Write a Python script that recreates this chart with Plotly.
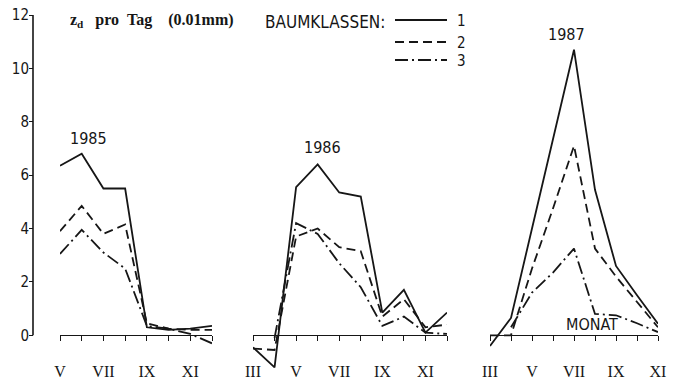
import plotly.graph_objects as go

# ---------------- data ----------------
months_1985 = [5, 6, 7, 8, 9, 10, 11, 12]
k1_1985 = [6.35, 6.8, 5.5, 5.5, 0.3, 0.2, 0.25, 0.35]
k2_1985 = [3.9, 4.85, 3.8, 4.15, 0.45, 0.25, 0.2, 0.2]
k3_1985 = [3.05, 3.95, 3.1, 2.5, 0.35, 0.25, 0.05, -0.3]

months_1986 = [3, 4, 5, 6, 7, 8, 9, 10, 11, 12]
k1_1986 = [-0.45, -1.2, 5.55, 6.4, 5.35, 5.2, 0.85, 1.7, 0.1, 0.85]
k2_1986 = [-0.5, -0.55, 3.7, 4.0, 3.3, 3.15, 0.7, 1.35, 0.3, 0.4]
k3_1986 = [None, -0.1, 4.2, 3.8, 2.7, 1.8, 0.35, 0.7, 0.1, 0.05]

months_1987 = [3, 4, 5, 6, 7, 8, 9, 10, 11]
k1_1987 = [-0.4, 0.65, 4.0, 7.3, 10.7, 5.45, 2.6, 1.5, 0.43]
k2_1987 = [0.0, 0.0, 2.5, 4.75, 7.1, 3.25, 2.2, 1.25, 0.3]
k3_1987 = [None, 0.3, 1.6, 2.35, 3.25, 0.8, 0.75, 0.45, 0.12]

roman = {3: "III", 5: "V", 7: "VII", 9: "IX", 11: "XI"}
y_ticks = [0, 2, 4, 6, 8, 10, 12]
class_names = ["1", "2", "3"]

# ---------------- layout helpers ----------------
W, H = 675, 382
ML, MR, MT, MB = 33, 5, 7, 4
PW, PH = W - ML - MR, H - MT - MB
Y0, Y1 = -1.6, 12.3


def px(x):
    return (x - ML) / PW


def py(y):
    return 1 - (y - MT) / PH


INK = "#161616"
DASHES = ["solid", "9px,5px", "13px,4px,2px,4px"]
SERIF = "Liberation Serif, DejaVu Serif, serif"
NARROW = "Liberation Sans Narrow, Arial Narrow, DejaVu Sans Condensed, Liberation Sans, sans-serif"
NB = "\u00a0"

fig = go.Figure()

panels = [
    ("x", months_1985, [k1_1985, k2_1985, k3_1985]),
    ("x2", months_1986, [k1_1986, k2_1986, k3_1986]),
    ("x3", months_1987, [k1_1987, k2_1987, k3_1987]),
]
for xa, months, series in panels:
    for i, vals in enumerate(series):
        fig.add_trace(go.Scatter(
            x=months, y=vals, mode="lines", xaxis=xa, yaxis="y",
            name=class_names[i], showlegend=False,
            line=dict(color=INK, width=1.8, dash=DASHES[i]),
            connectgaps=False,
        ))

zero_pos = (0 - Y0) / (Y1 - Y0)


def xaxis(dom_px, rng, months):
    return dict(
        domain=[px(dom_px[0]), px(dom_px[1])], range=rng,
        anchor="free", position=zero_pos, automargin=False,
        showline=True, linecolor=INK, linewidth=1.4,
        ticks="outside", ticklen=5, tickwidth=1.2, tickcolor=INK,
        tickvals=list(range(months[0], months[-1] + 1)),
        ticktext=[roman.get(m, "") for m in range(months[0], months[-1] + 1)],
        tickfont=dict(family=SERIF, size=16, color=INK),
        ticklabelstandoff=16,
        showgrid=False, zeroline=False, fixedrange=True,
    )


fig.update_layout(
    template="none",
    width=W, height=H,
    margin=dict(l=ML, r=MR, t=MT, b=MB, pad=0, autoexpand=False),
    paper_bgcolor="white", plot_bgcolor="white",
    showlegend=False,
    xaxis=xaxis((60, 212), [5, 12], months_1985),
    xaxis2=xaxis((253, 447), [3, 12], months_1986),
    xaxis3=xaxis((490, 658), [3, 11], months_1987),
    yaxis=dict(
        range=[Y0, Y1], anchor="free", position=0, automargin=False,
        showline=False, ticks="outside", ticklen=4, tickwidth=1.2, tickcolor=INK,
        tickvals=y_ticks, ticktext=[str(v) for v in y_ticks],
        tickfont=dict(family=NARROW, size=15, color=INK),
        ticklabelstandoff=-3,
        showgrid=False, zeroline=False, fixedrange=True,
    ),
)

shapes = [
    dict(type="line", xref="paper", yref="y", x0=0, x1=0, y0=0, y1=12,
         line=dict(color=INK, width=1.6)),
]
legend_rows = [20, 42, 60]
for i, yy in enumerate(legend_rows):
    shapes.append(dict(type="line", xref="paper", yref="paper",
                       x0=px(395), x1=px(447), y0=py(yy), y1=py(yy),
                       line=dict(color=INK, width=1.8, dash=DASHES[i])))
fig.update_layout(shapes=shapes)

ann = []


def text(x, y, s, size, family=NARROW, xanchor="center"):
    ann.append(dict(x=px(x), y=py(y), xref="paper", yref="paper", text=s,
                    showarrow=False, xanchor=xanchor, yanchor="middle",
                    font=dict(family=family, size=size, color=INK)))


title = "<b>z<sub>d</sub>" + NB * 3 + "pro" + NB * 2 + "Tag" + NB * 4 + "(0.01mm)</b>"
text(68, 21, title, 16, SERIF, "left")
text(263, 22, "BAUMKLASSEN:", 17, NARROW, "left")
for i, yy in enumerate(legend_rows):
    text(455, yy + 1, class_names[i], 15, NARROW, "left")
text(88, 138, "1985", 16)
text(322, 147, "1986", 16)
text(566, 35, "1987", 16)
text(592, 324, "MONAT", 16)
fig.update_layout(annotations=ann)

fig.write_html(
    "out.html",
    config={"displayModeBar": False},
    post_script="document.body.style.margin='0px';document.body.style.padding='0px';",
)
